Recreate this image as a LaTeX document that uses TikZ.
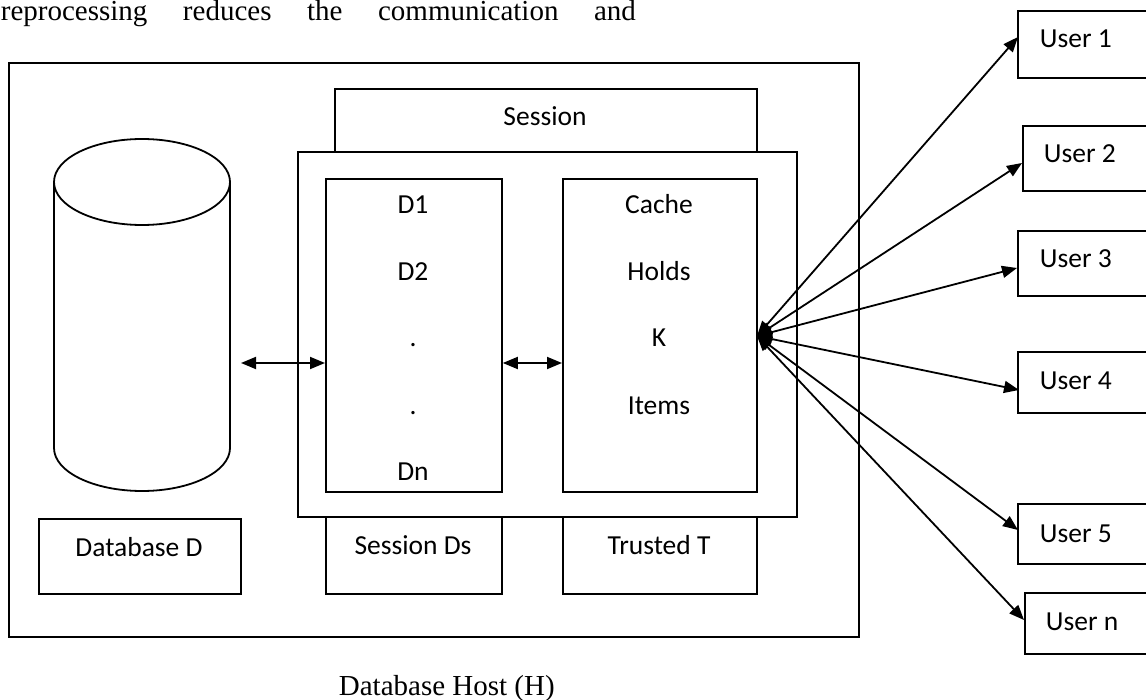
\documentclass[tikz,border=0pt]{standalone}
\usepackage{fontspec}
\setmainfont{Liberation Serif}
\newfontfamily\calib{Carlito}
\usetikzlibrary{arrows.meta}
\begin{document}
\begin{tikzpicture}[x=1pt,y=-1pt,line width=1.8pt,
  box/.style={draw,rectangle,inner sep=0pt,anchor=north west},
  lbl/.style={font=\calib\fontsize{27.5}{30}\selectfont,inner sep=0pt,anchor=base},
  ulbl/.style={font=\calib\fontsize{27.5}{30}\selectfont,inner sep=0pt,anchor=base west},
  serif/.style={font=\fontsize{29}{32}\selectfont,inner sep=0pt,anchor=base west},
  arr/.style={{Triangle[length=15pt,width=12pt]}-{Triangle[length=15pt,width=12pt]}}]
\useasboundingbox (0,0) rectangle (1146,700);
\clip (0,0) rectangle (1146,700);
% top text line
\node[serif] (toptext) at (0,21) {\makebox[635pt][s]{reprocessing reduces the communication and}};
% host
\node[box,minimum width=850pt,minimum height=574pt] (host) at (8,62) {};
\node[serif] (hostlbl) at (338,695) {Database Host (H)};
% session
\node[box,minimum width=422pt,minimum height=63pt] (session) at (334,88) {};
\node[lbl] (sessionlbl) at (545,126) {Session};
\node[box,minimum width=499pt,minimum height=365pt] (inner) at (297,151) {};
\node[box,minimum width=176pt,minimum height=313pt] (dbox) at (325,178) {};
\node[box,minimum width=194pt,minimum height=313pt] (cache) at (562,178) {};
\node[box,minimum width=176pt,minimum height=77pt] (sds) at (325,516) {};
\node[box,minimum width=194pt,minimum height=77pt] (trust) at (562,516) {};
\node[box,minimum width=202pt,minimum height=75pt] (dbd) at (38,518) {};
\node[lbl] (sdslbl) at (413,554) {Session Ds};
\node[lbl] (trustlbl) at (659,554) {Trusted T};
\node[lbl] (dbdlbl) at (139,556) {Database D};
% D list
\node[lbl] (d1) at (413,214) {D1};
\node[lbl] (d2) at (413,281) {D2};
\node[lbl] (d3) at (413,347) {.};
\node[lbl] (d4) at (413,414) {.};
\node[lbl] (dn) at (413,480) {Dn};
% cache text
\node[lbl] (c1) at (659,214) {Cache};
\node[lbl] (c2) at (659,281) {Holds};
\node[lbl] (c3) at (659,347) {K};
\node[lbl] (c4) at (659,414) {Items};
% cylinder
\draw (54,182) -- (54,448) arc[start angle=180,end angle=360,x radius=88pt,y radius=43pt] -- (230,182);
\draw (142,182) ellipse[x radius=88pt,y radius=43pt];
\coordinate (cylr) at (241,363);
% inner arrows
\draw[arr] (cylr) -- (dbox.west |- cylr);
\draw[arr] (dbox.east |- cylr) -- (cache.west |- cylr);
% users
\node[box,minimum width=160pt,minimum height=67pt] (u1) at (1017,10) {};
\node[box,minimum width=160pt,minimum height=65pt] (u2) at (1022,125) {};
\node[box,minimum width=160pt,minimum height=65pt] (u3) at (1017,230) {};
\node[box,minimum width=160pt,minimum height=61pt] (u4) at (1017,351) {};
\node[box,minimum width=160pt,minimum height=60pt] (u5) at (1017,503) {};
\node[box,minimum width=160pt,minimum height=61pt] (un) at (1024,592) {};
\node[ulbl] (u1l) at (1039,48) {User 1};
\node[ulbl] (u2l) at (1043,163) {User 2};
\node[ulbl] (u3l) at (1039,268) {User 3};
\node[ulbl] (u4l) at (1039,390) {User 4};
\node[ulbl] (u5l) at (1039,542) {User 5};
\node[ulbl] (unl) at (1045,630) {User n};
\coordinate (hub) at (757,336);
\coordinate (p1) at (1018,37);
\coordinate (p2) at (1022,163);
\coordinate (p3) at (1017,268);
\coordinate (p4) at (1019,390);
\coordinate (p5) at (1018,530);
\coordinate (p6) at (1024,620);
\foreach \p in {p1,p2,p3,p4,p5,p6} \draw[arr] (hub) -- (\p);
\end{tikzpicture}
\end{document}
